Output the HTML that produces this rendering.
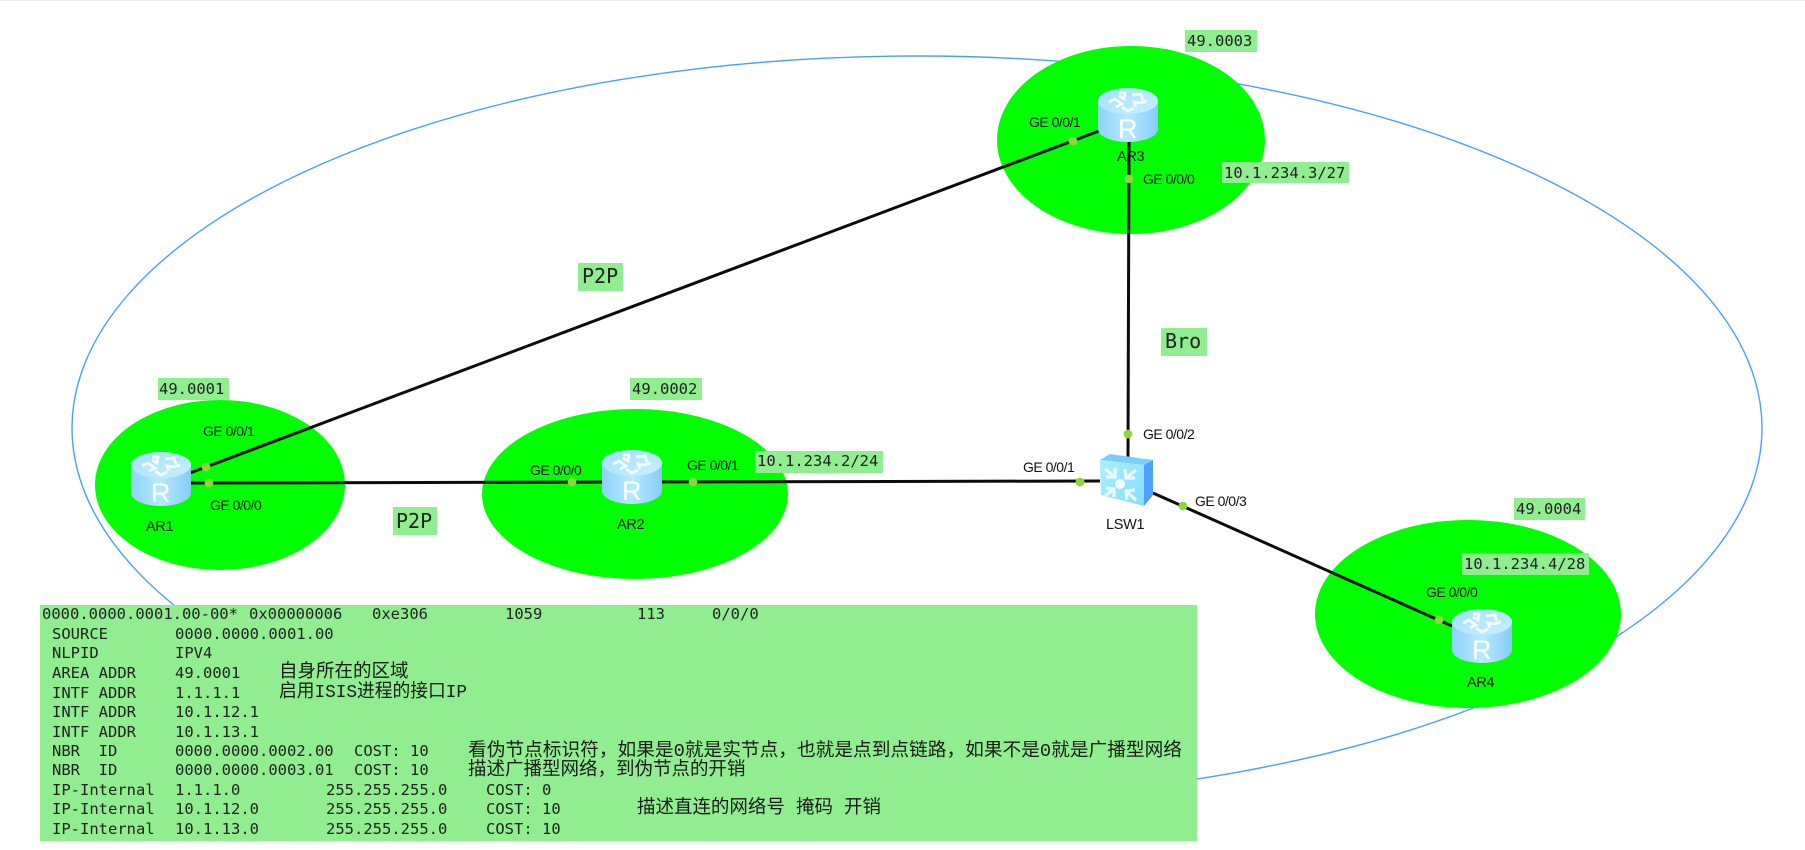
<!DOCTYPE html>
<html lang="zh">
<head>
<meta charset="utf-8">
<title>ISIS topology</title>
<style>
html,body{margin:0;padding:0;background:#fff;width:1805px;height:850px;overflow:hidden}
svg{display:block;filter:blur(.35px)}
.m{font-family:"DejaVu Sans Mono","Liberation Mono",monospace;font-size:15.5px;fill:#222}
.p{font-family:"DejaVu Sans Mono","Liberation Mono",monospace;font-size:20px;fill:#222}
.s{font-family:"Liberation Sans",sans-serif;font-size:14px;fill:#111;letter-spacing:-.5px}
.n{font-family:"Liberation Sans",sans-serif;font-size:14.5px;fill:#111;letter-spacing:-.3px}
.c{font-family:"Liberation Mono","Noto Sans CJK SC",sans-serif;font-size:18.5px;fill:#1a1a1a}
.r{font-family:"Liberation Sans",sans-serif;font-size:27px;fill:#fff}
</style>
</head>
<body>
<svg width="1805" height="850" viewBox="0 0 1805 850" xmlns="http://www.w3.org/2000/svg">
<defs>
<linearGradient id="rb" x1="0" x2="1" y1="0" y2="0">
<stop offset="0" stop-color="#8ed2f8"/><stop offset=".5" stop-color="#b8eaff"/><stop offset="1" stop-color="#86cbf6"/>
</linearGradient>
<linearGradient id="rt" x1="0" x2="1" y1="0" y2="1">
<stop offset="0" stop-color="#a3e0fd"/><stop offset="1" stop-color="#c6f0ff"/>
</linearGradient>
<linearGradient id="sf" x1="0" x2="1" y1="0" y2="1">
<stop offset="0" stop-color="#aeeeff"/><stop offset="1" stop-color="#84deff"/>
</linearGradient>
<g id="router">
<path d="M0 13A30 13 0 0 1 60 13V41A30 13 0 0 1 0 41Z" fill="url(#rb)"/>
<ellipse cx="30" cy="13" rx="30" ry="13" fill="url(#rt)"/>
<g fill="none" stroke="#f4fcff" stroke-width="2.8" stroke-linejoin="miter">
<path d="M21 5L27 5L26 11L21 8"/>
<path d="M34 7L43 6L45 12"/>
<path d="M11 14L17 11L24 16L18 19"/>
<path d="M49 13L42 15L36 14L38 19"/>
<path d="M24 19L30 23L36 20"/>
</g>
</g>
</defs>

<rect x="0" y="0" width="1805" height="1" fill="#e8e8e8"/>
<ellipse cx="917" cy="428" rx="845" ry="372" fill="none" stroke="#4a9eff" stroke-width="1.4"/>

<ellipse cx="1131" cy="140" rx="134" ry="94" fill="#00ff00"/>
<ellipse cx="220" cy="485" rx="125" ry="85" fill="#00ff00"/>
<ellipse cx="635" cy="494" rx="153" ry="85" fill="#00ff00"/>
<ellipse cx="1468" cy="614" rx="153" ry="94" fill="#00ff00"/>

<g stroke="#0c0c0c" stroke-width="3" fill="none">
<path d="M190 473L1099 131"/>
<path d="M190 483L1100 481"/>
<path d="M1129 142L1128 457"/>
<path d="M1153 493L1452 626"/>
</g>

<g fill="#8ed63f">
<circle cx="206" cy="467" r="4.4"/>
<circle cx="1073" cy="141" r="4.4"/>
<circle cx="209" cy="483" r="4.4"/>
<circle cx="572" cy="482" r="4.4"/>
<circle cx="693" cy="482" r="4.4"/>
<circle cx="1080" cy="482" r="4.4"/>
<circle cx="1129" cy="179" r="4.4"/>
<circle cx="1128" cy="434" r="4.4"/>
<circle cx="1183" cy="506" r="4.4"/>
<circle cx="1439" cy="620" r="4.4"/>
</g>

<use href="#router" x="131" y="452"/>
<text class="r" x="151" y="502">R</text>
<use href="#router" x="602" y="450"/>
<text class="r" x="622" y="500">R</text>
<use href="#router" x="1098" y="88"/>
<text class="r" x="1118" y="138">R</text>
<use href="#router" x="1452" y="609"/>
<text class="r" x="1472" y="659">R</text>

<g transform="translate(1098,454)">
<polygon points="2,6 12,0 55,6 46,11" fill="#78cfff"/>
<polygon points="46,11 55,6 55,41 46,52" fill="#4f9fff"/>
<polygon points="2,6 46,11 46,52 3,41" fill="url(#sf)"/>
<circle cx="22" cy="30" r="5" fill="#f2fcff"/>
<g fill="none" stroke="#e8faff" stroke-width="3.2">
<path d="M7 15L17 23M17 14L17 23L8 23"/>
<path d="M38 16L28 24M27 15L28 24L37 24"/>
<path d="M7 42L16 35M8 34L16 35L16 43"/>
<path d="M38 46L28 37M37 36L28 37L29 46"/>
</g>
</g>

<g class="s">
<text class="s" x="1029" y="127">GE 0/0/1</text>
<text class="s" x="1143" y="184">GE 0/0/0</text>
<text class="s" x="203" y="436">GE 0/0/1</text>
<text class="s" x="210" y="510">GE 0/0/0</text>
<text class="s" x="530" y="475">GE 0/0/0</text>
<text class="s" x="687" y="470">GE 0/0/1</text>
<text class="s" x="1023" y="472">GE 0/0/1</text>
<text class="s" x="1143" y="439">GE 0/0/2</text>
<text class="s" x="1195" y="506">GE 0/0/3</text>
<text class="s" x="1426" y="597">GE 0/0/0</text>
</g>
<text class="n" x="1117" y="161">AR3</text>
<text class="n" x="146" y="531">AR1</text>
<text class="n" x="617" y="529">AR2</text>
<text class="n" x="1106" y="529">LSW1</text>
<text class="n" x="1467" y="687">AR4</text>

<g fill="#90ee90">
<rect x="158" y="378" width="71" height="22"/>
<rect x="630" y="378" width="72" height="22"/>
<rect x="1185" y="30" width="72" height="22"/>
<rect x="1222" y="162" width="127" height="21"/>
<rect x="1514" y="498" width="71" height="22"/>
<rect x="1462" y="553" width="127" height="22"/>
<rect x="755" y="451" width="128" height="22"/>
<rect x="578" y="263" width="45" height="28"/>
<rect x="393" y="507" width="44" height="28"/>
<rect x="1161" y="328" width="46" height="28"/>
<rect x="40" y="605" width="1157" height="236"/>
</g>

<text class="m" x="159" y="394">49.0001</text>
<text class="m" x="632" y="394">49.0002</text>
<text class="m" x="1187" y="46">49.0003</text>
<text class="m" x="1224" y="178">10.1.234.3/27</text>
<text class="m" x="1516" y="514">49.0004</text>
<text class="m" x="1464" y="569">10.1.234.4/28</text>
<text class="m" x="757" y="466">10.1.234.2/24</text>
<text class="p" x="582" y="283">P2P</text>
<text class="p" x="396" y="528">P2P</text>
<text class="p" x="1165" y="348">Bro</text>

<text class="m" x="42" y="619">0000.0000.0001.00-00*</text>
<text class="m" x="249" y="619">0x00000006</text>
<text class="m" x="372" y="619">0xe306</text>
<text class="m" x="505" y="619">1059</text>
<text class="m" x="637" y="619">113</text>
<text class="m" x="712" y="619">0/0/0</text>

<text class="m" x="52" y="639">SOURCE</text><text class="m" x="175" y="639">0000.0000.0001.00</text>
<text class="m" x="52" y="658">NLPID</text><text class="m" x="175" y="658">IPV4</text>
<text class="m" x="52" y="678">AREA ADDR</text><text class="m" x="175" y="678">49.0001</text>
<text class="m" x="52" y="698">INTF ADDR</text><text class="m" x="175" y="698">1.1.1.1</text>
<text class="m" x="52" y="717">INTF ADDR</text><text class="m" x="175" y="717">10.1.12.1</text>
<text class="m" x="52" y="737">INTF ADDR</text><text class="m" x="175" y="737">10.1.13.1</text>
<text class="m" x="52" y="756" xml:space="preserve">NBR  ID</text><text class="m" x="175" y="756">0000.0000.0002.00</text><text class="m" x="354" y="756">COST: 10</text>
<text class="m" x="52" y="775" xml:space="preserve">NBR  ID</text><text class="m" x="175" y="775">0000.0000.0003.01</text><text class="m" x="354" y="775">COST: 10</text>
<text class="m" x="52" y="795">IP-Internal</text><text class="m" x="175" y="795">1.1.1.0</text><text class="m" x="326" y="795">255.255.255.0</text><text class="m" x="486" y="795">COST: 0</text>
<text class="m" x="52" y="814">IP-Internal</text><text class="m" x="175" y="814">10.1.12.0</text><text class="m" x="326" y="814">255.255.255.0</text><text class="m" x="486" y="814">COST: 10</text>
<text class="m" x="52" y="834">IP-Internal</text><text class="m" x="175" y="834">10.1.13.0</text><text class="m" x="326" y="834">255.255.255.0</text><text class="m" x="486" y="834">COST: 10</text>

<text class="c" x="279" y="677">自身所在的区域</text>
<text class="c" x="279" y="697" textLength="188" lengthAdjust="spacingAndGlyphs">启用ISIS进程的接口IP</text>
<text class="c" x="468" y="756" textLength="714" lengthAdjust="spacingAndGlyphs">看伪节点标识符，如果是0就是实节点，也就是点到点链路，如果不是0就是广播型网络</text>
<text class="c" x="468" y="775">描述广播型网络，到伪节点的开销</text>
<text class="c" x="637" y="813" xml:space="preserve" textLength="244" lengthAdjust="spacingAndGlyphs">描述直连的网络号 掩码 开销</text>
</svg>
</body>
</html>
